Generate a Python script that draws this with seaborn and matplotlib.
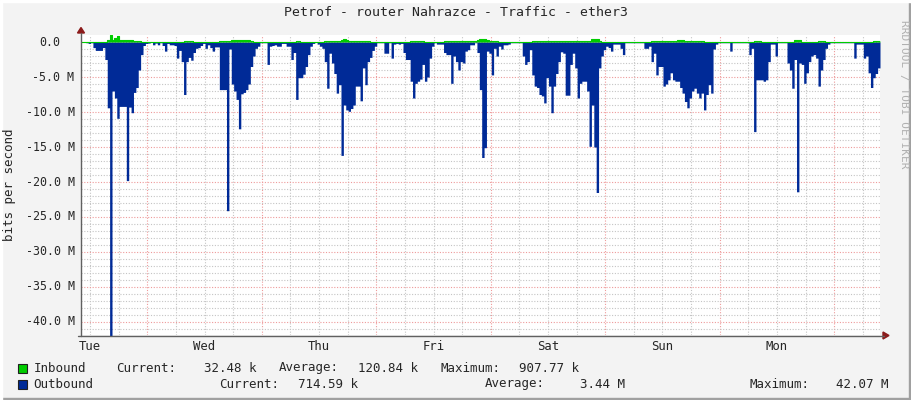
import matplotlib
matplotlib.use("Agg")
import matplotlib.pyplot as plt
import matplotlib.transforms as mtransforms
from matplotlib.lines import Line2D
from matplotlib.patches import Polygon, Rectangle
import numpy as np
import pandas as pd
import seaborn as sns

# ---------------- data ----------------
title = "Petrof - router Nahrazce - Traffic - ether3"
y_label = "bits per second"
side_text = "RRDTOOL / TOBI OETIKER"

start_hour = 10.1      # hours after Tuesday 00:00
step_hours = 0.5       # 30 minute samples
end_hour = 177.6

day_names = ["Tue", "Wed", "Thu", "Fri", "Sat", "Sun", "Mon"]
day_noons = [12, 36, 60, 84, 108, 132, 156]

y_tick_values = [0, -5, -10, -15, -20, -25, -30, -35, -40]
y_tick_labels = ["0.0  ", "-5.0 M", "-10.0 M", "-15.0 M", "-20.0 M",
                 "-25.0 M", "-30.0 M", "-35.0 M", "-40.0 M"]

# outbound traffic (Mbit/s, drawn downwards)
outbound = [
    0.05, 0.05, 0.1, 0.2, 0.1, 0.8, 1.2, 1.2, 1.2, 0.8,
    2.5, 9.4, 42.07, 7.0, 8.0, 10.9, 9.2, 9.2, 9.2, 19.8,
    9.3, 10.1, 7.2, 6.5, 4.0, 1.8, 0.5, 0.2, 0.15, 0.05,
    0.4, 0.15, 0.4, 0.1, 0.5, 1.3, 0.2, 0.4, 0.4, 0.5,
    2.3, 1.2, 2.8, 7.5, 2.8, 2.2, 2.6, 1.5, 0.9, 0.8,
    0.5, 0.2, 0.9, 0.4, 0.8, 1.3, 0.7, 0.7, 6.8, 6.8,
    6.8, 24.1, 1.0, 6.0, 7.0, 8.2, 12.4, 7.4, 7.2, 6.8,
    6.0, 3.5, 2.0, 0.9, 0.6, 0.1, 0.1, 0.1, 3.2, 0.6,
    0.5, 0.4, 0.6, 0.6, 0.2, 0.2, 0.6, 0.6, 2.5, 1.5,
    8.2, 5.1, 5.1, 4.6, 3.5, 1.8, 0.6, 0.2, 0.05, 0.3,
    0.6, 0.9, 2.8, 6.6, 1.6, 3.0, 4.5, 7.3, 6.1, 16.2,
    9.0, 9.7, 9.9, 9.5, 9.0, 6.3, 6.3, 8.4, 3.7, 6.1,
    2.8, 2.2, 1.2, 0.6, 0.1, 0.1, 0.1, 1.6, 1.6, 0.1,
    2.3, 0.3, 0.2, 0.3, 0.2, 1.5, 2.5, 2.5, 5.6, 8.0,
    5.9, 5.6, 5.3, 3.2, 5.6, 5.0, 2.3, 0.6, 0.1, 0.3,
    0.3, 0.3, 1.5, 1.8, 1.8, 5.9, 2.0, 2.8, 4.0, 2.8,
    3.0, 1.3, 1.1, 0.4, 0.4, 0.1, 1.5, 6.8, 16.5, 15.1,
    1.3, 1.6, 4.7, 0.9, 2.0, 0.6, 1.0, 0.4, 0.4, 0.3,
    0.1, 0.1, 0.1, 0.1, 0.1, 2.0, 3.2, 2.8, 1.1, 4.7,
    6.3, 6.5, 7.5, 7.7, 8.7, 5.1, 6.3, 10.1, 6.3, 4.5,
    2.8, 1.4, 1.6, 7.6, 7.6, 3.2, 1.6, 3.7, 8.0, 5.9,
    5.6, 5.6, 7.0, 14.9, 9.0, 15.0, 21.5, 3.7, 2.0, 1.1,
    0.6, 0.8, 1.3, 0.3, 0.3, 0.3, 0.9, 1.8, 0.1, 0.1,
    0.1, 0.1, 0.1, 0.1, 0.1, 0.1, 0.9, 0.9, 0.6, 2.8,
    1.6, 4.7, 3.5, 3.5, 6.3, 6.0, 5.4, 4.4, 5.4, 5.6,
    5.6, 6.5, 7.3, 8.5, 9.4, 8.0, 7.0, 6.6, 7.3, 8.0,
    7.3, 9.7, 7.5, 6.1, 7.3, 1.0, 0.3, 0.1, 0.1, 0.1,
    0.1, 0.1, 1.3, 0.1, 0.1, 0.1, 0.1, 0.1, 0.1, 0.1,
    1.8, 0.9, 12.8, 5.4, 5.4, 5.4, 5.6, 5.4, 2.8, 0.3,
    0.3, 2.0, 0.1, 0.1, 0.1, 0.1, 3.0, 4.0, 6.6, 2.5,
    21.4, 3.0, 3.2, 5.9, 4.4, 2.8, 2.0, 1.8, 2.3, 6.3,
    4.0, 2.5, 0.9, 0.3, 0.1, 0.1, 0.1, 0.1, 0.1, 0.1,
    0.1, 0.1, 0.1, 0.1, 2.3, 0.3, 0.3, 0.3, 2.3, 2.0,
    4.4, 6.5, 5.1, 4.5, 3.7,
]

# inbound traffic (Mbit/s, drawn upwards)
inbound = [
    0.03, 0.03, 0.03, 0.03, 0.03, 0.03, 0.03, 0.03, 0.03, 0.03,
    0.05, 0.3, 0.95, 0.35, 0.6, 0.85, 0.3, 0.3, 0.35, 0.3,
    0.3, 0.25, 0.2, 0.15, 0.1, 0.05, 0.05, 0.05, 0.05, 0.05,
    0.05, 0.05, 0.05, 0.05, 0.05, 0.05, 0.05, 0.05, 0.05, 0.05,
    0.05, 0.05, 0.05, 0.15, 0.15, 0.15, 0.15, 0.05, 0.05, 0.05,
    0.05, 0.05, 0.05, 0.05, 0.05, 0.05, 0.05, 0.05, 0.15, 0.15,
    0.15, 0.1, 0.1, 0.3, 0.35, 0.3, 0.35, 0.3, 0.3, 0.3,
    0.25, 0.15, 0.05, 0.05, 0.05, 0.05, 0.05, 0.05, 0.05, 0.05,
    0.05, 0.05, 0.05, 0.05, 0.05, 0.05, 0.05, 0.05, 0.05, 0.05,
    0.15, 0.15, 0.05, 0.05, 0.05, 0.05, 0.05, 0.05, 0.05, 0.05,
    0.05, 0.05, 0.15, 0.2, 0.15, 0.1, 0.1, 0.1, 0.1, 0.3,
    0.4, 0.3, 0.1, 0.1, 0.1, 0.1, 0.1, 0.1, 0.15, 0.15,
    0.15, 0.05, 0.05, 0.05, 0.05, 0.05, 0.05, 0.05, 0.05, 0.05,
    0.05, 0.05, 0.05, 0.05, 0.05, 0.05, 0.05, 0.05, 0.15, 0.15,
    0.15, 0.15, 0.15, 0.15, 0.05, 0.05, 0.05, 0.05, 0.05, 0.05,
    0.05, 0.05, 0.15, 0.15, 0.15, 0.15, 0.15, 0.1, 0.1, 0.1,
    0.1, 0.1, 0.1, 0.1, 0.1, 0.1, 0.35, 0.4, 0.5, 0.45,
    0.3, 0.1, 0.1, 0.1, 0.1, 0.05, 0.05, 0.05, 0.05, 0.05,
    0.05, 0.05, 0.05, 0.05, 0.05, 0.05, 0.05, 0.05, 0.05, 0.2,
    0.2, 0.2, 0.2, 0.2, 0.2, 0.2, 0.2, 0.2, 0.2, 0.2,
    0.15, 0.15, 0.1, 0.1, 0.1, 0.1, 0.1, 0.1, 0.2, 0.2,
    0.2, 0.2, 0.2, 0.2, 0.45, 0.5, 0.45, 0.2, 0.05, 0.05,
    0.05, 0.05, 0.05, 0.05, 0.05, 0.05, 0.05, 0.05, 0.05, 0.05,
    0.05, 0.05, 0.05, 0.05, 0.05, 0.05, 0.05, 0.05, 0.05, 0.2,
    0.2, 0.1, 0.1, 0.1, 0.1, 0.1, 0.1, 0.1, 0.1, 0.1,
    0.25, 0.25, 0.25, 0.1, 0.1, 0.1, 0.1, 0.1, 0.2, 0.2,
    0.2, 0.05, 0.05, 0.05, 0.05, 0.05, 0.05, 0.05, 0.05, 0.05,
    0.05, 0.05, 0.05, 0.05, 0.05, 0.05, 0.05, 0.05, 0.05, 0.05,
    0.05, 0.05, 0.2, 0.2, 0.2, 0.05, 0.05, 0.05, 0.05, 0.05,
    0.05, 0.05, 0.05, 0.05, 0.05, 0.05, 0.05, 0.05, 0.05, 0.3,
    0.35, 0.3, 0.05, 0.05, 0.05, 0.05, 0.05, 0.05, 0.05, 0.2,
    0.2, 0.2, 0.05, 0.05, 0.05, 0.05, 0.05, 0.05, 0.05, 0.05,
    0.05, 0.05, 0.05, 0.05, 0.05, 0.05, 0.05, 0.05, 0.05, 0.05,
    0.05, 0.05, 0.15, 0.15, 0.15,
]

legend_rows = [
    ("Inbound", [("Current:", 116), ("32.48 k", 204.5), ("Average:", 279),
                 ("120.84 k", 358.5), ("Maximum:", 440.5), ("907.77 k", 519)]),
    ("Outbound", [("Current:", 219.5), ("714.59 k", 298.5), ("Average:", 484.5),
                  ("3.44 M", 580), ("Maximum:", 749.5), ("42.07 M", 836.5)]),
]

# ---------------- style ----------------
BG = "#F3F3F3"
GREEN = "#00CC00"
BLUE = "#002A97"
MINOR_GRID = "#C4C4C4"
MAJOR_GRID = "#EE9A9A"
AXIS = "#606060"
ARROW = "#8B1A1A"

sns.set_style("white")
plt.rcParams["font.family"] = ["DejaVu Sans Mono"]

W, H = 911, 400
fig = plt.figure(figsize=(W / 100, H / 100), dpi=100, facecolor=BG)


def fx(px):
    return px / W


def fy(py):
    return 1 - py / H


PL, PR, PT, PB = 81, 880, 35.3, 335
ax = fig.add_axes([fx(PL), fy(PB), fx(PR) - fx(PL), fy(PT) - fy(PB)])
ax.set_facecolor("white")

n = len(outbound)
t_edges = start_hour + step_hours * np.arange(n + 1)
out_ext = -np.append(outbound, outbound[-1])
in_ext = np.append(inbound, inbound[-1])
df = pd.DataFrame({"t": t_edges, "outbound": out_ext, "inbound": in_ext})

ax.fill_between(df["t"], 0, df["outbound"], step="post", color=BLUE, lw=0, zorder=2)
ax.fill_between(df["t"], 0, df["inbound"], step="post", color=GREEN, lw=0, zorder=3)
sns.lineplot(data=df, x="t", y="inbound", drawstyle="steps-post", color=GREEN,
             lw=0.8, ax=ax, zorder=4)

ax.set_xlim(start_hour, end_hour)
ax.set_ylim(-41.86, 0.96)

# grid
ax.set_xticks(np.arange(24, 177, 24))
ax.set_xticks(np.arange(12, 178, 6), minor=True)
ax.set_yticks(y_tick_values)
ax.set_yticklabels([])
ax.set_yticks(np.arange(-41, 1, 1), minor=True)
ax.set_xticklabels([])
ax.grid(which="minor", color=MINOR_GRID, linestyle=(0, (1, 1.5)), linewidth=0.8)
ax.grid(which="major", color=MAJOR_GRID, linestyle=(0, (1, 1.5)), linewidth=0.8)
ax.set_axisbelow(True)
ax.tick_params(axis="both", which="both", length=0)
ax.set_xlabel("")
ax.set_ylabel("")
for s in ax.spines.values():
    s.set_visible(False)

# y tick labels (monospace, right aligned incl. unit column)
CHAR_W = 7.03
ytrans = mtransforms.blended_transform_factory(fig.transFigure, ax.transData)
for v, lab in zip(y_tick_values, y_tick_labels):
    pad_chars = len(lab) - len(lab.rstrip())
    ax.text(fx(74.5 - pad_chars * CHAR_W), v, lab.rstrip(), transform=ytrans,
            ha="right", va="center", fontsize=8.4, clip_on=False)

# day labels
trans = mtransforms.blended_transform_factory(ax.transData, fig.transFigure)
for nm, hr in zip(day_names, day_noons):
    ax.text(hr, fy(347), nm, transform=trans, ha="center", va="center", fontsize=8.8,
            clip_on=False)

# axis lines and arrows
fig.add_artist(Line2D([fx(81), fx(81)], [fy(336), fy(33)], color=AXIS, lw=1.0))
fig.add_artist(Line2D([fx(78), fx(884)], [fy(335.5), fy(335.5)], color=AXIS, lw=1.0))
fig.add_artist(Polygon([[fx(77.5), fy(33)], [fx(84.5), fy(33)], [fx(81), fy(27.5)]],
                       closed=True, color=ARROW, transform=fig.transFigure))
fig.add_artist(Polygon([[fx(883), fy(332)], [fx(883), fy(339)], [fx(889), fy(335.5)]],
                       closed=True, color=ARROW, transform=fig.transFigure))

# texts
fig.text(fx(455.5), fy(13), title, ha="center", va="center", fontsize=9.5)
fig.text(fx(10), fy(185), y_label, rotation=90, ha="center", va="center", fontsize=9)
fig.text(fx(903.5), fy(94), side_text, rotation=270, ha="center", va="center",
         fontsize=8, color="#B0B0B0")

# legend
for (name, items), yc, col in zip(legend_rows, [368, 384], [GREEN, BLUE]):
    fig.add_artist(Rectangle((fx(17.5), fy(yc + 5)), fx(9), 9 / H, facecolor=col,
                             edgecolor="#202020", lw=0.8, transform=fig.transFigure))
    fig.text(fx(33.5), fy(yc), name, ha="left", va="center", fontsize=9)
    for txt, xp in items:
        fig.text(fx(xp), fy(yc), txt, ha="left", va="center", fontsize=9)

# frame shading
fig.add_artist(Rectangle((fx(909), 0), fx(2), 1, color="#A0A0A0", transform=fig.transFigure))
fig.add_artist(Rectangle((0, 0), 1, 2 / H, color="#A0A0A0", transform=fig.transFigure))
fig.add_artist(Rectangle((0, 0), fx(1.5), 1, color="#FFFFFF", transform=fig.transFigure))
fig.add_artist(Rectangle((0, 1 - 1.5 / H), 1, 1.5 / H, color="#FFFFFF", transform=fig.transFigure))

fig.savefig("out.png", dpi=100, facecolor=BG)
